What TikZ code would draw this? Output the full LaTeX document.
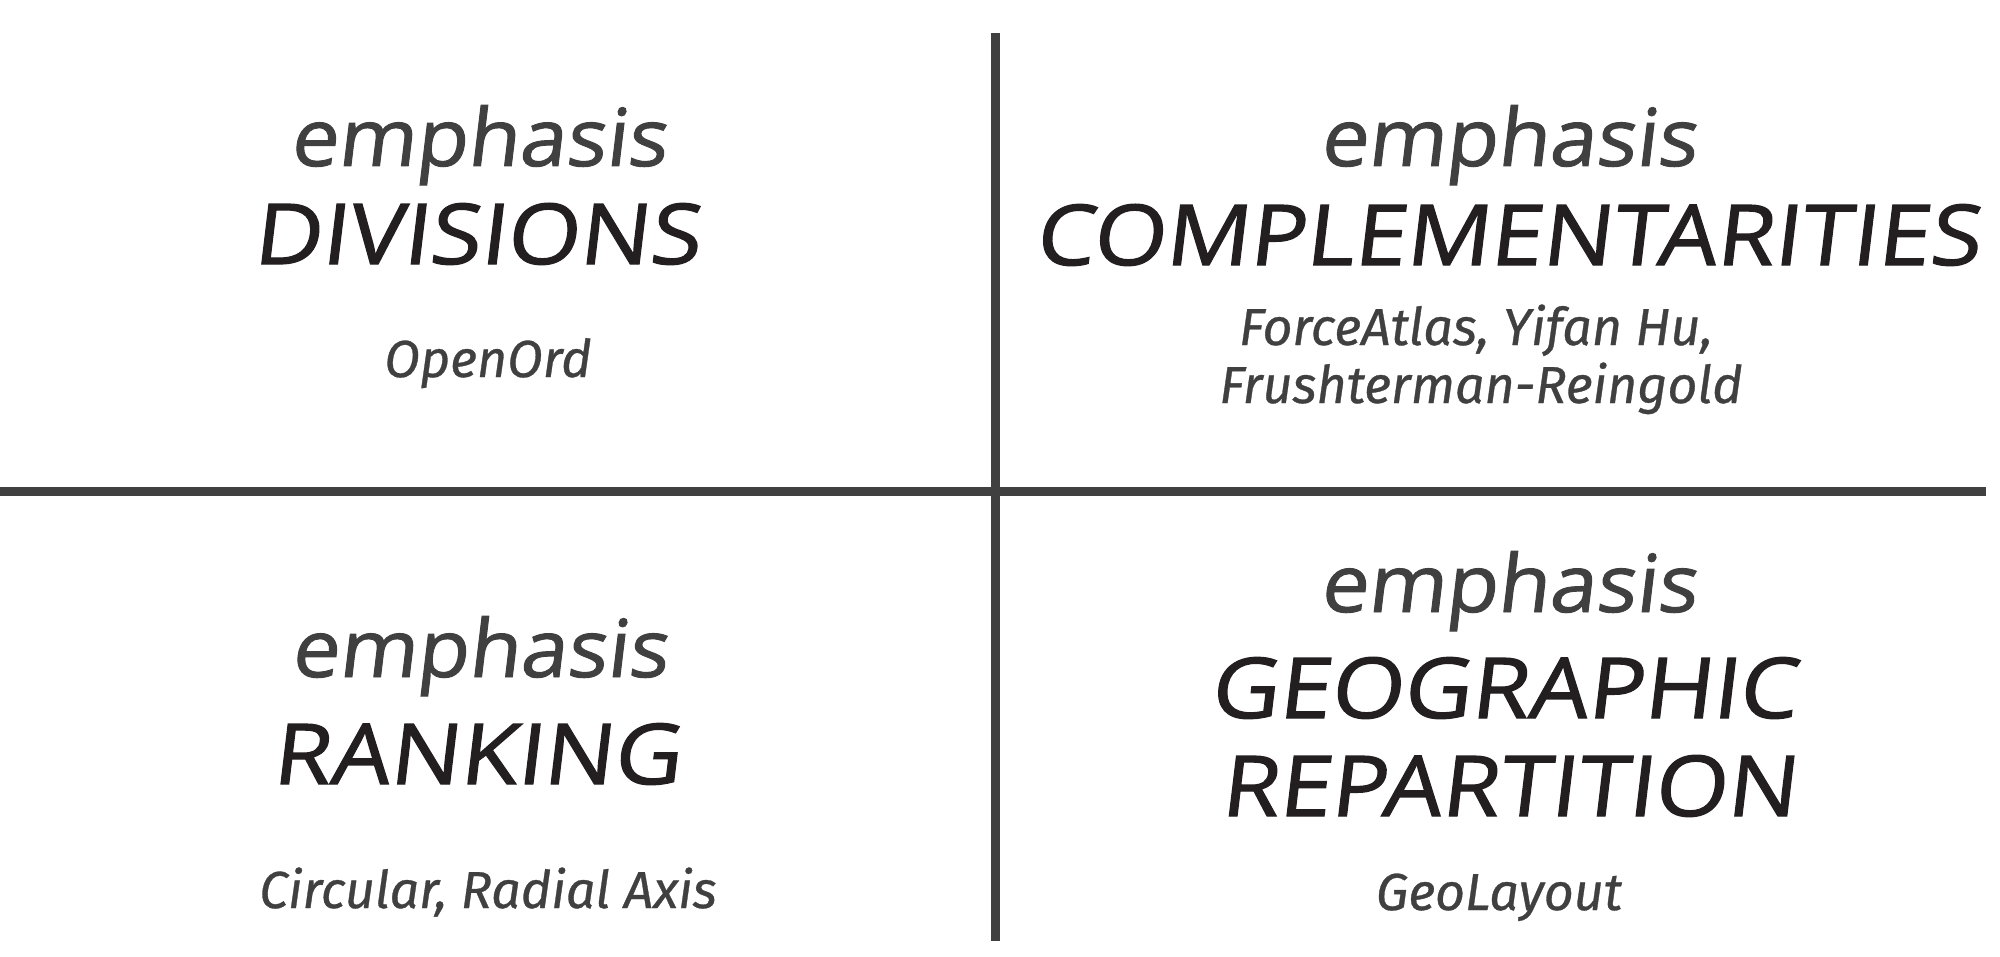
\documentclass[tikz,border=0pt]{standalone}
\usepackage{fontspec}
\setmainfont{Open Sans}
\newfontfamily\handfont[FakeSlant=0.12,FakeStretch=1.05,FakeBold=1.2]{Open Sans}
\newfontfamily\handcaps[FakeSlant=0.12,FakeStretch=1.11,FakeBold=1.4]{Open Sans}
\newfontfamily\labelfont[ItalicFeatures={FakeBold=0.6}]{Fira Sans}
\definecolor{rulegray}{HTML}{404040}
\definecolor{softink}{HTML}{404040}
\definecolor{darkink}{HTML}{231F20}
\tikzset{
  emph/.style={anchor=base, inner sep=0pt, text=softink,
    font=\handfont\fontsize{40pt}{40pt}\selectfont},
  theme/.style={anchor=base, inner sep=0pt, text=darkink,
    font=\handcaps\fontsize{42pt}{42pt}\selectfont},
  algo/.style={anchor=base, inner sep=0pt, text=softink, align=center,
    font=\labelfont\itshape\fontsize{26pt}{29pt}\selectfont},
  divider/.style={draw=rulegray, line width=4.5pt}
}
\begin{document}
\begin{tikzpicture}[x=0.5pt, y=-0.5pt]
  \useasboundingbox (0,0) rectangle (2000,957);

  % quadrant dividers
  \coordinate (vtop) at (995,33);
  \coordinate (vbot) at (995,941);
  \coordinate (hleft) at (0,491);
  \coordinate (hright) at (1986,491);
  \draw[divider] (vtop) -- (vbot);
  \draw[divider] (hleft) -- (hright);

  % top left
  \node[emph]  (emTL)  at (478,166) {emphasis};
  \node[theme] (div)   at (476,264) {DIVISIONS};
  \node[algo]  (oo)    at (488,377) {OpenOrd};

  % top right
  \node[emph]  (emTR)  at (1508,166) {emphasis};
  \node[theme] (comp)  at (1507,265) {COMPLEMENTARITIES};
  \node[algo]  (fa1)   at (1476,345) {ForceAtlas, Yifan Hu,};
  \node[algo]  (fa2)   at (1481,403) {Frushterman-Reingold};

  % bottom left
  \node[emph]  (emBL)  at (479,677) {emphasis};
  \node[theme] (rank)  at (476,784) {RANKING};
  \node[algo]  (circ)  at (488,908) {Circular, Radial Axis};

  % bottom right
  \node[emph]  (emBR)  at (1508,612) {emphasis};
  \node[theme] (geo)   at (1503,718) {GEOGRAPHIC};
  \node[theme] (rep)   at (1508,816) {REPARTITION};
  \node[algo]  (gl)    at (1499,910) {GeoLayout};
\end{tikzpicture}
\end{document}
